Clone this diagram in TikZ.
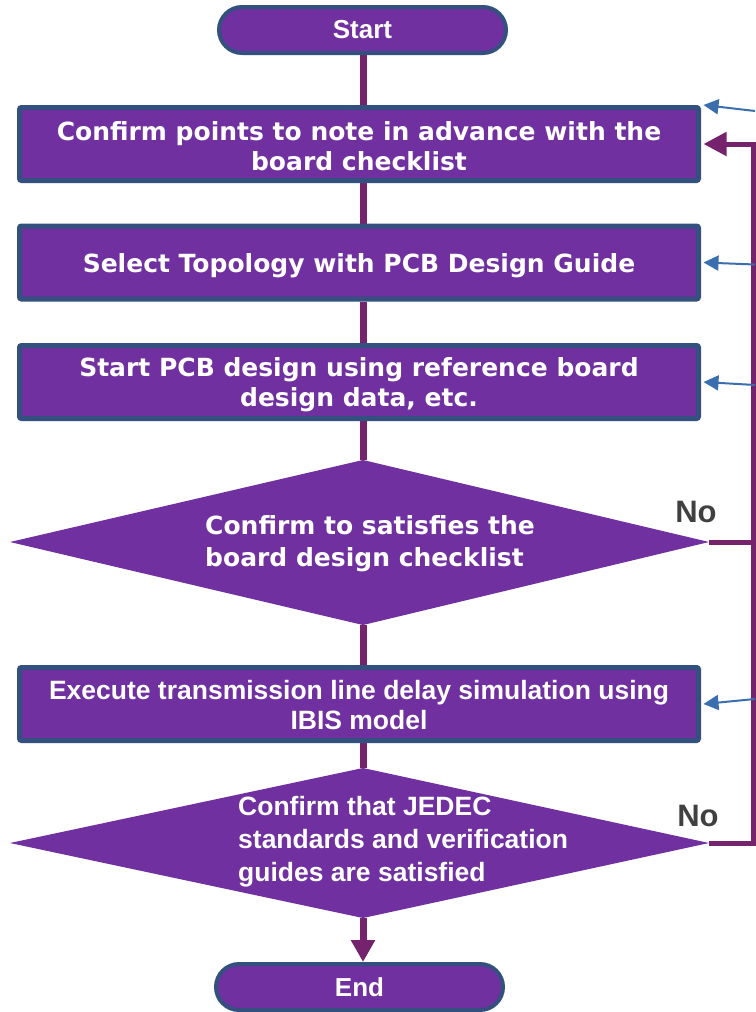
\documentclass[tikz,border=0pt]{standalone}
\usepackage{fontspec}
\newfontfamily\vfont{DejaVu Sans}
\newfontfamily\afont{Liberation Sans}
\usetikzlibrary{arrows.meta,backgrounds}
\definecolor{boxfill}{HTML}{7030A0}
\definecolor{boxline}{HTML}{33507E}
\definecolor{flow}{HTML}{76236E}
\definecolor{feed}{HTML}{3A6EAF}
\definecolor{nolabel}{HTML}{404040}
\begin{document}
\begin{tikzpicture}[x=1pt,y=-1pt,
  stepbox/.style={draw=boxline, fill=boxfill, line width=5pt, rounded corners=2pt,
    minimum width=679pt, minimum height=73pt, inner sep=0pt},
  boxtext/.style={text=white, align=center, inner sep=0pt},
  vtext/.style={font={\vfont\bfseries\fontsize{25}{30}\selectfont}},
  atext/.style={font={\afont\bfseries\fontsize{26.5}{30}\selectfont}},
  term/.style={draw=boxline, fill=boxfill, line width=4pt, rounded corners=23pt,
    minimum width=287pt, minimum height=46pt, text=white, inner sep=0pt,
    font={\afont\bfseries\fontsize{26}{28}\selectfont}},
  qtext/.style={text=white, align=left, inner sep=0pt, anchor=west},
  trunk/.style={draw=flow, line width=7pt},
  loopline/.style={draw=flow, line width=5pt},
  feedarrow/.style={draw=feed, line width=2pt, -{Triangle[length=15pt,width=15pt]}},
  nolab/.style={text=nolabel, font={\afont\bfseries\fontsize{31}{34}\selectfont}, inner sep=0pt}
]
\useasboundingbox (0,0) rectangle (755,1012);

% terminals and process steps
\node[term] (start) at (362.5,30) {Start};
\node[stepbox] (b1) at (359,144) {};
\node[boxtext, vtext] (t1) at ([yshift=-2pt]b1.center) {Confirm points to note in advance with the\\board checklist};
\node[stepbox] (b2) at (359,262.5) {};
\node[boxtext, vtext] (t2) at ([yshift=-3pt]b2.center) {Select Topology with PCB Design Guide};
\node[stepbox] (b3) at (359,382) {};
\node[boxtext, vtext] (t3) at ([yshift=-3pt]b3.center) {Start PCB design using reference board\\design data, etc.};
\node[stepbox] (b4) at (359,704) {};
\node[boxtext, atext] (t4) at ([yshift=-1.5pt]b4.center) {Execute transmission line delay simulation using\\IBIS model};
\node[term] (end) at (359.5,987) {End};

% decisions
\coordinate (d1n) at (363,460);
\coordinate (d1e) at (709,542);
\coordinate (d1s) at (363,625);
\coordinate (d1w) at (10,542);
\fill[boxfill] (d1n) -- (d1e) -- (d1s) -- (d1w) -- cycle;
\node[qtext, font={\vfont\bfseries\fontsize{25}{32}\selectfont}] (q1) at (205,544)
  {Confirm to satisfies the\\board design checklist};

\coordinate (d2n) at (363,768);
\coordinate (d2e) at (709,843);
\coordinate (d2s) at (363,918);
\coordinate (d2w) at (10,843);
\fill[boxfill] (d2n) -- (d2e) -- (d2s) -- (d2w) -- cycle;
\node[qtext, font={\afont\bfseries\fontsize{26.5}{33}\selectfont}] (q2) at (238,842)
  {Confirm that JEDEC\\standards and verification\\guides are satisfied};

\node[nolab] (no1) at (696,512) {No};
\node[nolab] (no2) at (698,816) {No};

% main flow
\coordinate (tx) at (363,0);
\coordinate (rail) at (753,0);
\begin{scope}[on background layer]
  \draw[trunk] (tx |- start.south) -- (tx |- b1.north);
  \draw[trunk] (tx |- b1.south) -- (tx |- b2.north);
  \draw[trunk] (tx |- b2.south) -- (tx |- b3.north);
  \draw[trunk] (tx |- b3.south) -- (d1n);
  \draw[trunk] (d1s) -- (tx |- b4.north);
  \draw[trunk] (tx |- b4.south) -- (d2n);
\end{scope}
\draw[trunk, -{Triangle[length=22pt,width=23pt]}] (d2s) -- (d2s |- end.north);

% return loop for the "No" branches
\draw[loopline, -{Triangle[length=23pt,width=23pt]}]
  (d2e) -| (rail |- b1.east) -- ([xshift=2.5pt]b1.east);
\draw[loopline] (d1e) -- (d1e -| rail);

% incoming feedback arrows
\coordinate (f1) at (755,111);
\coordinate (f2) at (755,264.5);
\coordinate (f3) at (755,385);
\coordinate (f4) at (755,699);
\draw[feedarrow] (f1) -- ([xshift=2.5pt]b1.north east);
\draw[feedarrow] (f2) -- ([xshift=2.5pt]b2.east);
\draw[feedarrow] (f3) -- ([xshift=2.5pt]b3.east);
\draw[feedarrow] (f4) -- ([xshift=2.5pt]b4.east);
\end{tikzpicture}
\end{document}
